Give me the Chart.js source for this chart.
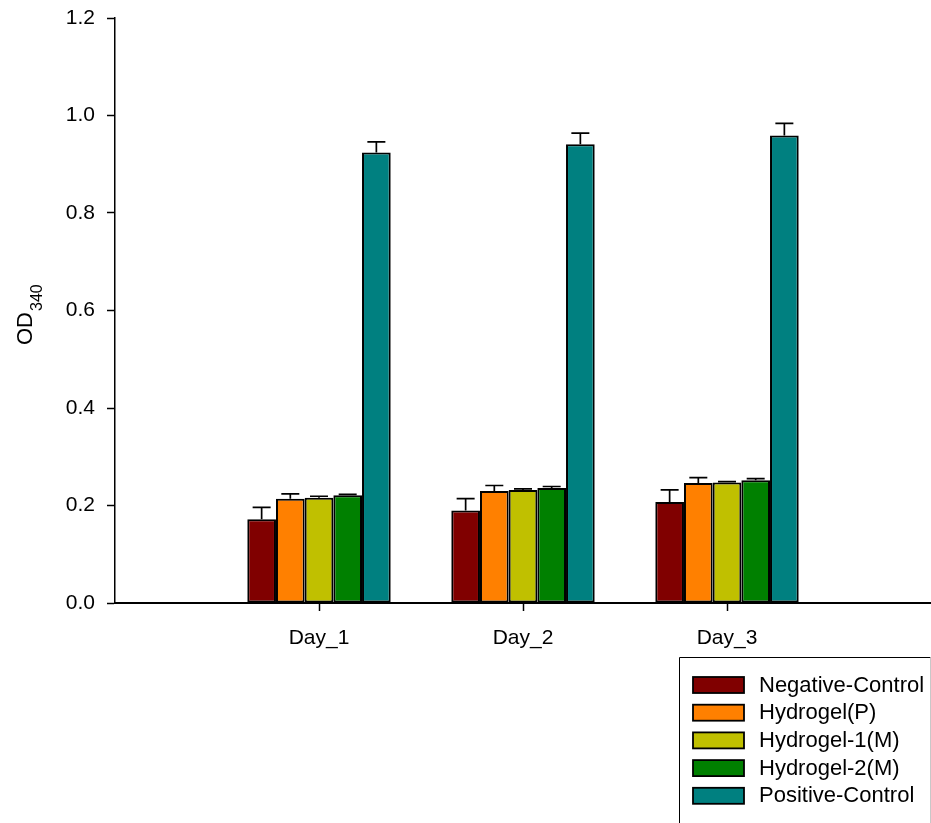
<!DOCTYPE html>
<html>
<head>
<meta charset="utf-8">
<script src="https://cdn.jsdelivr.net/npm/chart.js@4"></script>
<style>
  html, body { margin: 0; padding: 0; background: #fff; }
  canvas { display: block; }
</style>
</head>
<body>
<canvas id="chart" width="931" height="823"></canvas>
<script>
// categories (empty slots at both ends keep the days at 1/4, 2/4, 3/4 of the axis)
const days = ["Day_1", "Day_2", "Day_3"];
const seriesNames = ["Negative-Control", "Hydrogel(P)", "Hydrogel-1(M)", "Hydrogel-2(M)", "Positive-Control"];
const seriesColors = ["#800000", "#ff8000", "#c0c000", "#008000", "#008080"];

// mean OD340 per day
const negControl = [0.172, 0.190, 0.207];
const hydrogelP = [0.214, 0.230, 0.246];
const hydrogel1M = [0.216, 0.232, 0.247];
const hydrogel2M = [0.221, 0.236, 0.252];
const posControl = [0.924, 0.941, 0.959];

// upper error (SD)
const negControlErr = [0.024, 0.024, 0.025];
const hydrogelPErr = [0.010, 0.011, 0.011];
const hydrogel1MErr = [0.003, 0.002, 0.002];
const hydrogel2MErr = [0.002, 0.003, 0.003];
const posControlErr = [0.022, 0.023, 0.025];

const yTicks = [0, 0.2, 0.4, 0.6, 0.8, 1.0, 1.2];

const values = [negControl, hydrogelP, hydrogel1M, hydrogel2M, posControl];
const errors = [negControlErr, hydrogelPErr, hydrogel1MErr, hydrogel2MErr, posControlErr];

const FONT = "'Liberation Sans', Arial, sans-serif";
const labels = [""].concat(days, [""]);
const pad = arr => [null].concat(arr, [null]);

const errorBars = {
  id: "errorBars",
  afterDatasetsDraw(chart) {
    const ctx = chart.ctx;
    const y = chart.scales.y;
    ctx.save();
    ctx.strokeStyle = "#000";
    ctx.lineWidth = 1.7;
    chart.data.datasets.forEach((ds, i) => {
      const meta = chart.getDatasetMeta(i);
      meta.data.forEach((bar, j) => {
        const v = ds.data[j];
        if (v == null) return;
        const e = errors[i][j - 1];
        const top = y.getPixelForValue(v + e);
        ctx.beginPath();
        ctx.moveTo(bar.x, bar.y);
        ctx.lineTo(bar.x, top);
        ctx.moveTo(bar.x - 9, top);
        ctx.lineTo(bar.x + 9, top);
        ctx.stroke();
      });
    });
    ctx.restore();
  }
};

const axisTitle = {
  id: "axisTitle",
  afterDraw(chart) {
    const ctx = chart.ctx;
    ctx.save();
    ctx.translate(32, 345);
    ctx.rotate(-Math.PI / 2);
    ctx.fillStyle = "#000";
    ctx.textBaseline = "alphabetic";
    ctx.font = "22px " + FONT;
    ctx.fillText("OD", 0, 0);
    const w = ctx.measureText("OD").width;
    ctx.font = "16px " + FONT;
    ctx.fillText("340", w + 1, 10);
    ctx.restore();
  }
};

const boxLegend = {
  id: "boxLegend",
  afterDraw(chart) {
    const ctx = chart.ctx;
    ctx.save();
    ctx.lineWidth = 1;
    ctx.strokeStyle = "#000";
    ctx.beginPath();
    ctx.moveTo(679.5, 823);
    ctx.lineTo(679.5, 657.5);
    ctx.lineTo(930.5, 657.5);
    ctx.stroke();
    ctx.strokeStyle = "#c8c8c8";
    ctx.beginPath();
    ctx.moveTo(930.5, 657.5);
    ctx.lineTo(930.5, 823);
    ctx.stroke();
    ctx.font = "22px " + FONT;
    ctx.textBaseline = "middle";
    chart.data.datasets.forEach((ds, i) => {
      const top = 677 + i * 27.7;
      ctx.fillStyle = ds.backgroundColor;
      ctx.fillRect(693, top, 51, 16);
      ctx.lineWidth = 1.8;
      ctx.strokeStyle = "#000";
      ctx.strokeRect(693, top, 51, 16);
      ctx.fillStyle = "#000";
      ctx.fillText(ds.label, 759, top + 8.5);
    });
    ctx.restore();
  }
};

new Chart(document.getElementById("chart"), {
  type: "bar",
  data: {
    labels: labels,
    datasets: seriesNames.map((name, i) => ({
      label: name,
      data: pad(values[i]),
      backgroundColor: seriesColors[i],
      borderColor: "#000",
      borderWidth: 2,
      borderSkipped: false,
      categoryPercentage: 0.703,
      barPercentage: 1.0
    }))
  },
  options: {
    responsive: false,
    animation: false,
    layout: { padding: { top: 18, right: 0, left: 0, bottom: 0 } },
    plugins: {
      legend: { display: false },
      tooltip: { enabled: false }
    },
    scales: {
      x: {
        type: "category",
        offset: false,
        afterFit: s => { s.height = 220; s.paddingLeft = 0; s.paddingRight = 0; },
        border: { display: true, color: "#000", width: 2 },
        grid: {
          offset: false,
          drawOnChartArea: false,
          drawTicks: true,
          tickLength: 8,
          tickWidth: 1.5,
          tickColor: c => (c.index === 0 || c.index === labels.length - 1) ? "rgba(0,0,0,0)" : "#000"
        },
        ticks: {
          autoSkip: false,
          maxRotation: 0,
          padding: 15,
          color: "#000",
          font: { family: FONT, size: 21 }
        }
      },
      y: {
        min: 0,
        max: 1.2,
        afterFit: s => { s.width = 115; s.paddingTop = 0; s.paddingBottom = 0; },
        afterBuildTicks: s => { s.ticks = yTicks.map(v => ({ value: v })); },
        border: { display: true, color: "#000", width: 1.5 },
        grid: {
          drawOnChartArea: false,
          drawTicks: true,
          tickLength: 8,
          tickWidth: 1.5,
          tickColor: "#000"
        },
        ticks: {
          padding: 12,
          color: "#000",
          font: { family: FONT, size: 21 },
          callback: v => Number(v).toFixed(1)
        }
      }
    }
  },
  plugins: [errorBars, axisTitle, boxLegend]
});
</script>
</body>
</html>
